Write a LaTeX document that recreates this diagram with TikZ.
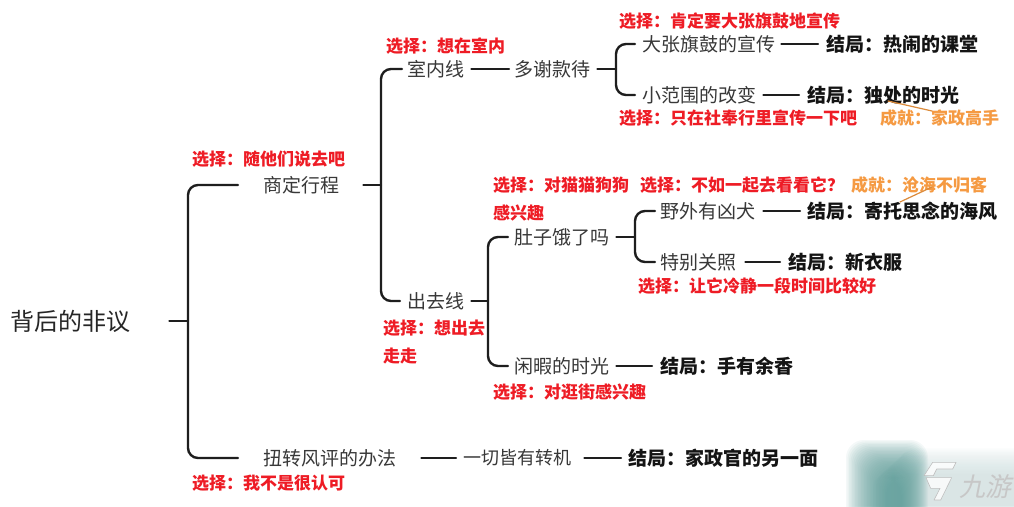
\documentclass[tikz,border=0pt]{standalone}
\usepackage{fontspec}
\setmainfont{Noto Sans CJK SC}
\definecolor{linecol}{HTML}{1E1E1E}
\definecolor{redtxt}{HTML}{EE1C25}
\definecolor{orangetxt}{HTML}{F59A42}
\definecolor{wmteal}{HTML}{5F9F9B}
\tikzset{
  x=1pt,y=-1pt,
  topic/.style={anchor=west,inner sep=0pt,text=black!78,font=\fontsize{19}{19}\selectfont},
  topicsmall/.style={topic,font=\fontsize{18}{18}\selectfont},
  root/.style={anchor=west,inner sep=0pt,text=black!85,font=\fontsize{24}{24}\selectfont},
  ending/.style={anchor=west,inner sep=0pt,text=black!92,font=\fontsize{19}{19}\selectfont\bfseries},
  choice/.style={anchor=west,inner sep=0pt,text=redtxt,font=\fontsize{17}{17}\selectfont\bfseries},
  achieve/.style={anchor=west,inner sep=0pt,text=orangetxt,font=\fontsize{17}{17}\selectfont\bfseries},
  link/.style={draw=linecol,line width=2.4pt,line cap=round},
  brace/.style={link,rounded corners=10pt},
  strokeline/.style={draw=orangetxt!90!black,line width=1.2pt,line cap=round},
  wmlogo/.style={fill=white,fill opacity=.8,draw=black!25,line width=.6pt,line join=round},
}
\begin{document}
\begin{tikzpicture}
\useasboundingbox (0,0) rectangle (1014,506);
\fill[white] (0,0) rectangle (1014,506);
% watermark glow
\begin{scope}
\clip (820,430) rectangle (1014,506);
\foreach \i in {0,...,19}{
  \fill[wmteal!30,opacity=.055,rounded corners=16pt] (900-\i*1.5,448+\i*1.4) rectangle (1060-\i*2,540);
}
\foreach \i in {0,...,27}{
  \fill[wmteal,opacity=.065,rounded corners=18pt] (846+\i*1.5,440+\i*1.4) rectangle (928-\i*1.0,545);
}
\end{scope}
\begin{scope}[shift={(920,455)},x=.3333pt,y=-.3333pt]
\path[wmlogo] (38,22) -- (108,22) -- (98,42) -- (50,42) -- (40,62) -- (12,62) -- cycle;
\path[wmlogo] (18,68) -- (95,68) -- (62,135) -- (42,135) -- (60,100) -- (32,100) -- cycle;
\end{scope}
\node[inner sep=0pt,anchor=west,text=black!22,font=\fontsize{26}{26}\selectfont\addfontfeature{FakeSlant=.2}] (wmtext) at (959,487) {九游};
% root
\node[root] (root) at (10,321) {背后的非议};
% level 1
\node[topic] (plan) at (263,185) {商定行程};
\node[topic] (turn) at (263,458) {扭转风评的办法};
\node[topicsmall] (allturn) at (463,458) {一切皆有转机};
\node[ending] (e7) at (628,458) {结局：家政官的另一面};
% level 2
\node[topic] (indoor) at (407,69) {室内线};
\node[topic] (thanks) at (514,69) {多谢款待};
\node[topic] (out) at (407,301) {出去线};
\node[topic] (hungry) at (514,237) {肚子饿了吗};
\node[topic] (idle) at (514,366) {闲暇的时光};
% level 3
\node[topic] (big) at (642,44) {大张旗鼓的宣传};
\node[topic] (small) at (642,95) {小范围的改变};
\node[topic] (wild) at (660,211) {野外有凶犬};
\node[topic] (care) at (660,262) {特别关照};
% endings
\node[ending] (e1) at (826,44) {结局：热闹的课堂};
\node[ending] (e2) at (807,95) {结局：独处的时光};
\node[ending] (e3) at (807,211) {结局：寄托思念的海风};
\node[ending] (e4) at (788,262) {结局：新衣服};
\node[ending] (e5) at (660,366) {结局：手有余香};
% choices
\node[choice] (c1) at (192,159) {选择：随他们说去吧};
\node[choice] (c2) at (192,483) {选择：我不是很认可};
\node[choice] (c3) at (386,46) {选择：想在室内};
\node[choice] (c4) at (619,21) {选择：肯定要大张旗鼓地宣传};
\node[choice] (c5) at (619,118) {选择：只在社奉行里宣传一下吧};
\node[choice] (c6) at (493,185) {选择：对猫猫狗狗};
\node[choice] (c6b) at (493,213) {感兴趣};
\node[choice] (c7) at (640,185) {选择：不如一起去看看它？};
\node[choice] (c8) at (638,286) {选择：让它冷静一段时间比较好};
\node[choice] (c9) at (383,328) {选择：想出去};
\node[choice] (c9b) at (383,356) {走走};
\node[choice] (c10) at (493,392) {选择：对逛街感兴趣};
\node[achieve] (a1) at (880,118) {成就：家政高手};
\node[achieve] (a2) at (851,185) {成就：沧海不归客};
% bracket junctions
\coordinate (j0) at (188,321);
\coordinate (j1) at (381,185);
\coordinate (j2) at (488,301);
\coordinate (j3) at (616,69);
\coordinate (j4) at (635,237);
% straight links
\draw[link] ([xshift=39pt]root.east) -- (j0);
\draw[link] ([xshift=24pt]plan.east) -- (j1);
\draw[link] ([xshift=7pt]out.east) -- (j2);
\draw[link] ([xshift=7pt]indoor.east) -- ([xshift=-5pt]thanks.west);
\draw[link] ([xshift=7pt]thanks.east) -- (j3);
\draw[link] ([xshift=7pt]hungry.east) -- (j4);
\draw[link] ([xshift=6pt]big.east) -- ([xshift=-8pt]e1.west);
\draw[link] ([xshift=7pt]small.east) -- ([xshift=-8pt]e2.west);
\draw[link] ([xshift=8pt]wild.east) -- ([xshift=-7pt]e3.west);
\draw[link] ([xshift=9pt]care.east) -- ([xshift=-8pt]e4.west);
\draw[link] ([xshift=7pt]idle.east) -- ([xshift=-8pt]e5.west);
\draw[link] ([xshift=25pt]turn.east) -- ([xshift=-7pt]allturn.west);
\draw[link] ([xshift=13pt]allturn.east) -- ([xshift=-7pt]e7.west);
% brackets
\draw[brace] ([xshift=-25pt]plan.west) -| (j0) |- ([xshift=-25pt]turn.west);
\draw[brace] ([xshift=-5pt]indoor.west) -| (j1) |- ([xshift=-7pt]out.west);
\draw[brace] ([xshift=-6pt]hungry.west) -| (j2) |- ([xshift=-6pt]idle.west);
\draw[brace] ([xshift=-7pt]big.west) -| (j3) |- ([xshift=-7pt]small.west);
\draw[brace] ([xshift=-5pt]wild.west) -| (j4) |- ([xshift=-5pt]care.west);
% achievement strokes
\coordinate (s1a) at (888,101);
\coordinate (s1b) at (932,111);
\coordinate (s2a) at (900,202);
\coordinate (s2b) at (932,187);
\draw[strokeline] (s1a) -- (s1b);
\draw[strokeline] (s2a) -- (s2b);
\end{tikzpicture}
\end{document}
